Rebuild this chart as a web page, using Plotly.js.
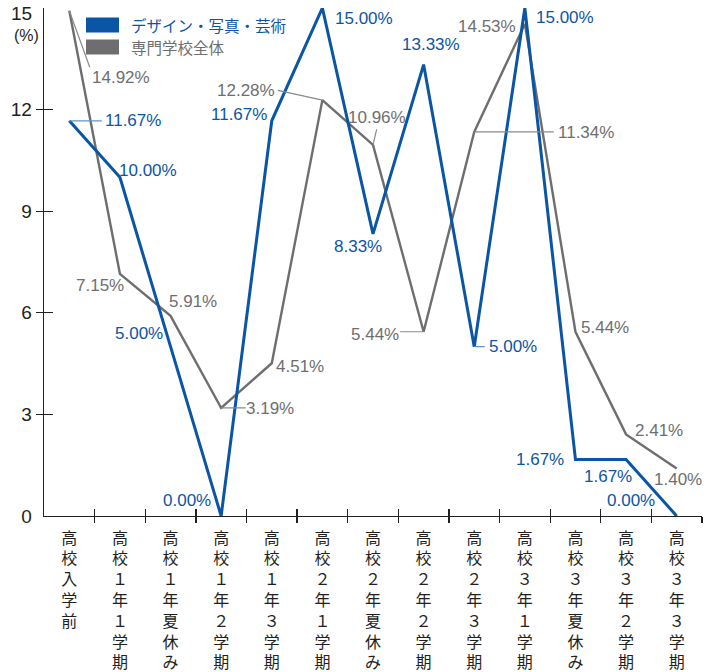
<!DOCTYPE html>
<html>
<head>
<meta charset="utf-8">
<script src="https://cdn.plot.ly/plotly-3.0.1.min.js"></script>
<style>html,body{margin:0;padding:0;background:#fff;}</style>
</head>
<body>
<div id="chart" style="width:712px;height:672px;"></div>
<script>
// ---- data ----
const categories = ['高校入学前','高校１年１学期','高校１年夏休み','高校１年２学期','高校１年３学期','高校２年１学期','高校２年夏休み','高校２年２学期','高校２年３学期','高校３年１学期','高校３年夏休み','高校３年２学期','高校３年３学期'];
const seriesNames = ['デザイン・写真・芸術','専門学校全体'];
const designValues = [11.67, 10.00, 5.00, 0.00, 11.67, 15.00, 8.33, 13.33, 5.00, 15.00, 1.67, 1.67, 0.00];
const allValues = [14.92, 7.15, 5.91, 3.19, 4.51, 12.28, 10.96, 5.44, 11.34, 14.53, 5.44, 2.41, 1.40];
const yTickValues = [0, 3, 6, 9, 12];
const yTopValue = 15;
const unitLabel = '(%)';

// ---- label placement (screen px offsets from the point: dx right, dy down) ----
const designLabelOffsets = [[64,0],[28,-7],[-32,-13],[-34,-16],[-33,-6],[42,10],[-15,13],[7,-20],[39,0],[40,9],[-35,0],[-18,17],[-46,-16]];
const allLabelOffsets = [[52,67],[-20,12],[22,-14],[49,1],[28,3],[-76,-10],[4,-27],[-49,3],[112,1],[-38,3],[30,-4],[33,-4],[1,11]];
// leader lines: [pointIndex, ax, ay]
const designLeaders = [[0,34,0],[8,12,0]];
const allLeaders = [[0,21,58],[3,26,0],[5,-46,-10],[6,4,-17],[7,-25,0],[8,81,0]];

const BLUE = '#0b55a5';
const GRAY = '#6e6e70';
const BLUE_LEAD = '#5f93cf';
const GRAY_LEAD = '#8a8a8c';
const AXIS = '#231f20';
const NUMFONT = 'Liberation Sans, Arial, Helvetica, sans-serif';
const JPFONT = 'Noto Sans CJK JP, sans-serif';

const tickText = categories.map(c => Array.from(c).join('<br>'));

const traces = [
  {type:'scatter', mode:'lines', x:categories, y:allValues, name:seriesNames[1],
   line:{color:GRAY, width:2.4}, showlegend:false, cliponaxis:false, hoverinfo:'skip'},
  {type:'scatter', mode:'lines', x:categories, y:designValues, name:seriesNames[0],
   line:{color:BLUE, width:3}, showlegend:false, cliponaxis:false, hoverinfo:'skip'},
  // empty traces so overlay axes are drawn
  {type:'scatter', x:[], y:[], xaxis:'x2', yaxis:'y', showlegend:false},
  {type:'scatter', x:[], y:[], xaxis:'x3', yaxis:'y', showlegend:false},
  {type:'scatter', x:[], y:[], xaxis:'x', yaxis:'y2', showlegend:false},
  {type:'scatter', x:[], y:[], xaxis:'x', yaxis:'y3', showlegend:false},
  {type:'scatter', x:[], y:[], xaxis:'x', yaxis:'y4', showlegend:false}
];

const annotations = [];
function addLabels(values, offsets, color) {
  values.forEach((v, i) => {
    annotations.push({
      x: categories[i], y: v, xref:'x', yref:'y',
      text: v.toFixed(2) + '%', showarrow:false,
      xshift: offsets[i][0], yshift: -offsets[i][1],
      font:{family:NUMFONT, size:17, color:color}
    });
  });
}
function addLeaders(values, leaders, color) {
  leaders.forEach(([i, ax, ay]) => {
    annotations.push({
      x: categories[i], y: values[i], xref:'x', yref:'y',
      text:'', showarrow:true, arrowhead:0, arrowwidth:1.2, arrowcolor:color,
      ax: ax, ay: ay, standoff:0, startstandoff:0
    });
  });
}
addLeaders(designValues, designLeaders, BLUE_LEAD);
addLeaders(allValues, allLeaders, GRAY_LEAD);
addLabels(designValues, designLabelOffsets, BLUE);
addLabels(allValues, allLabelOffsets, GRAY);

// top tick label and unit
annotations.push({xref:'paper', yref:'y', x:(34-44)/658, y:yTopValue, yshift:-5, xanchor:'right', yanchor:'middle',
  text:String(yTopValue), showarrow:false, font:{family:NUMFONT, size:19, color:AXIS}});
annotations.push({xref:'paper', yref:'y', x:(41-44)/658, y:yTopValue, yshift:-27, xanchor:'right', yanchor:'middle',
  text:unitLabel, showarrow:false, font:{family:NUMFONT, size:16, color:AXIS}});

// legend
const legendItems = [[seriesNames[0], BLUE, 25], [seriesNames[1], GRAY, 47]];
const shapes = [];
legendItems.forEach(([name, color, py]) => {
  const pyTop = (516 - (py - 7.5)) / 508, pyBot = (516 - (py + 7.5)) / 508;
  shapes.push({type:'rect', xref:'paper', yref:'paper',
    x0:(86-44)/658, x1:(119-44)/658, y0:pyBot, y1:pyTop,
    fillcolor:color, line:{width:0}});
  annotations.push({xref:'paper', yref:'paper', x:(129-44)/658, y:(516-py)/508,
    xanchor:'left', yanchor:'middle', text:name, showarrow:false,
    font:{family:JPFONT, size:15.5, color:color}});
});

const baseY = {range:[0,15], showgrid:false, zeroline:false, fixedrange:true};
const baseX = {range:[-0.5,12.5], showgrid:false, zeroline:false, fixedrange:true};
const boundaries = categories.map((c, i) => i + 0.5);

const layout = {
  width:712, height:672,
  margin:{l:44, r:10, t:8, b:156},
  paper_bgcolor:'#fff', plot_bgcolor:'#fff',
  showlegend:false,
  xaxis: Object.assign({}, baseX, {type:'category', showline:true, linecolor:AXIS, linewidth:1.4,
    ticks:'', tickmode:'array', tickvals:categories, ticktext:tickText, tickangle:0,
    tickfont:{family:JPFONT, size:16, color:AXIS}, ticklabelstandoff:7}),
  xaxis2: Object.assign({}, baseX, {overlaying:'x', anchor:'y', tickmode:'array', tickvals:boundaries,
    ticks:'outside', ticklen:6, tickwidth:1.3, tickcolor:AXIS, showticklabels:false, showline:false}),
  xaxis3: Object.assign({}, baseX, {overlaying:'x', anchor:'y', tickmode:'array', tickvals:boundaries,
    ticks:'inside', ticklen:7, tickwidth:1.3, tickcolor:AXIS, showticklabels:false, showline:false}),
  yaxis: Object.assign({}, baseY, {showline:true, linecolor:AXIS, linewidth:1.4, ticks:'',
    tickmode:'array', tickvals:yTickValues, ticktext:yTickValues.map(String),
    tickfont:{family:NUMFONT, size:19, color:AXIS}, ticklabelstandoff:7}),
  yaxis2: Object.assign({}, baseY, {overlaying:'y', anchor:'x', side:'left', tickmode:'array', tickvals:[3,6,9,12],
    ticks:'outside', ticklen:7, tickwidth:1.3, tickcolor:AXIS, showticklabels:false, showline:false}),
  yaxis3: Object.assign({}, baseY, {overlaying:'y', anchor:'x', side:'left', tickmode:'array', tickvals:[3,6,9,12],
    ticks:'inside', ticklen:9, tickwidth:1.3, tickcolor:AXIS, showticklabels:false, showline:false}),
  yaxis4: Object.assign({}, baseY, {overlaying:'y', anchor:'x', side:'left', tickmode:'array', tickvals:[yTopValue],
    ticks:'inside', ticklen:16, tickwidth:1.3, tickcolor:AXIS, showticklabels:false, showline:false}),
  annotations: annotations,
  shapes: shapes
};

Plotly.newPlot('chart', traces, layout, {displayModeBar:false, staticPlot:true});
</script>
</body>
</html>
